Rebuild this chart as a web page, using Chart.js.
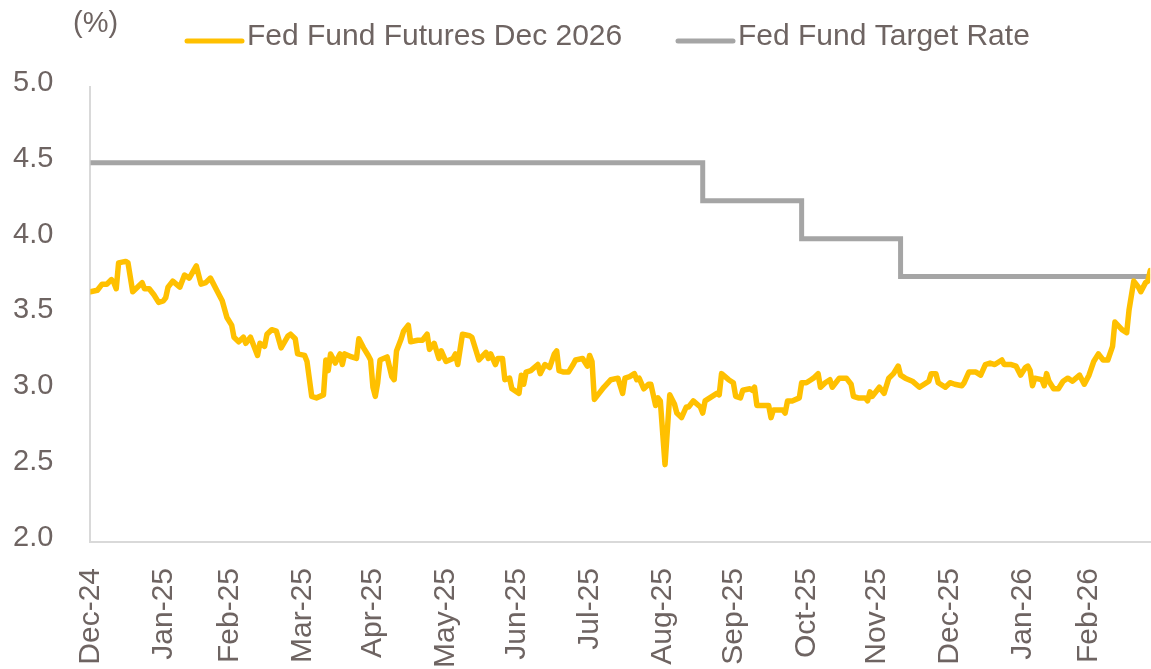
<!DOCTYPE html>
<html>
<head>
<meta charset="utf-8">
<title>Fed Fund Futures Dec 2026 vs Fed Fund Target Rate</title>
<script src="https://cdn.jsdelivr.net/npm/chart.js@4.4.1/dist/chart.umd.min.js"></script>
<style>
  html, body { margin: 0; padding: 0; background: #fff; }
  #wrap { width: 1151px; height: 669px; }
</style>
</head>
<body>
<div id="wrap"><canvas id="rateChart" width="1151" height="669"></canvas></div>
<script>
  // Day 0 of the x axis is 31 Dec 2024, everything else is counted in days from it
  const startDate = '2024-12-31';
  const endDate = '2026-03-26';

  // Month-end tick marks and their labels
  const tickDates = ['2024-12-31', '2025-01-31', '2025-02-28', '2025-03-31', '2025-04-30',
    '2025-05-31', '2025-06-30', '2025-07-31', '2025-08-31', '2025-09-30', '2025-10-31',
    '2025-11-30', '2025-12-31', '2026-01-31', '2026-02-28'];
  const tickLabels = ['Dec-24', 'Jan-25', 'Feb-25', 'Mar-25', 'Apr-25', 'May-25', 'Jun-25',
    'Jul-25', 'Aug-25', 'Sep-25', 'Oct-25', 'Nov-25', 'Dec-25', 'Jan-26', 'Feb-26'];

  // Fed Fund Futures Dec 2026 (days since start, %)
  const futuresDay = [
    0, 3, 5, 7, 9, 10, 11, 12, 15, 16,
    18, 20, 22, 23, 25, 27, 29, 31, 32, 33,
    35, 38, 40, 42, 45, 47, 49, 51, 52, 54,
    56, 58, 60, 61, 63, 65, 66, 68, 71, 72,
    74, 75, 77, 79, 81, 84, 85, 87, 88, 91,
    92, 94, 96, 99, 100, 101, 102, 104, 106, 107,
    108, 111, 113, 114, 116, 118, 119, 120, 121, 122,
    123, 126, 128, 129, 130, 132, 133, 135, 136, 139,
    141, 143, 144, 146, 148, 149, 151, 154, 155, 156,
    158, 161, 162, 165, 168, 169, 170, 172, 173, 175,
    176, 178, 179, 182, 183, 184, 185, 187, 190, 191,
    193, 195, 197, 198, 199, 201, 203, 205, 206, 209,
    211, 212, 213, 214, 216, 218, 221, 224, 226, 227,
    229, 231, 232, 233, 235, 237, 238, 240, 241, 242,
    244, 246, 248, 249, 251, 253, 254, 256, 259, 260,
    261, 264, 266, 267, 268, 271, 273, 274, 276, 277,
    280, 281, 282, 283, 286, 288, 289, 290, 294, 295,
    296, 298, 301, 302, 304, 306, 307, 309, 310, 312,
    314, 315, 318, 321, 323, 324, 326, 329, 330, 331,
    332, 335, 337, 339, 341, 343, 344, 346, 349, 352,
    355, 356, 357, 359, 360, 363, 365, 367, 370, 371,
    373, 376, 378, 380, 382, 384, 387, 388, 391, 393,
    395, 397, 398, 399, 400, 401, 404, 405, 406, 407,
    409, 411, 413, 415, 417, 420, 422, 424, 426, 428,
    430, 432, 434, 435, 438, 440, 441, 443, 445, 446,
    448, 449, 450
  ];
  const futuresRate = [
    3.65, 3.66, 3.70, 3.70, 3.73, 3.71, 3.67, 3.84, 3.85, 3.84,
    3.65, 3.68, 3.71, 3.67, 3.67, 3.63, 3.58, 3.59, 3.61, 3.68,
    3.72, 3.68, 3.76, 3.74, 3.82, 3.70, 3.71, 3.74, 3.71, 3.65,
    3.59, 3.48, 3.43, 3.35, 3.32, 3.35, 3.31, 3.35, 3.23, 3.31,
    3.29, 3.37, 3.40, 3.39, 3.28, 3.36, 3.37, 3.34, 3.24, 3.23,
    3.19, 2.96, 2.95, 2.97, 3.20, 3.13, 3.24, 3.18, 3.24, 3.17,
    3.24, 3.22, 3.21, 3.34, 3.28, 3.23, 3.20, 3.02, 2.96, 3.05,
    3.20, 3.22, 3.09, 3.07, 3.26, 3.34, 3.39, 3.43, 3.32, 3.33,
    3.33, 3.37, 3.27, 3.31, 3.21, 3.26, 3.19, 3.21, 3.24, 3.17,
    3.37, 3.36, 3.35, 3.20, 3.25, 3.21, 3.24, 3.17, 3.21, 3.21,
    3.07, 3.08, 3.01, 2.98, 3.10, 3.04, 3.12, 3.13, 3.17, 3.11,
    3.17, 3.15, 3.24, 3.26, 3.13, 3.12, 3.12, 3.17, 3.20, 3.21,
    3.16, 3.23, 3.19, 2.94, 2.98, 3.02, 3.07, 3.08, 2.98, 3.08,
    3.09, 3.11, 3.07, 3.08, 3.01, 3.04, 3.04, 2.90, 2.95, 2.93,
    2.51, 2.97, 2.91, 2.85, 2.82, 2.89, 2.89, 2.93, 2.89, 2.85,
    2.93, 2.96, 2.98, 2.97, 3.11, 3.07, 3.05, 2.96, 2.95, 3.00,
    3.01, 3.00, 3.02, 2.90, 2.90, 2.90, 2.82, 2.87, 2.87, 2.85,
    2.93, 2.93, 2.95, 3.05, 3.05, 3.07, 3.08, 3.11, 3.02, 3.05,
    3.07, 3.02, 3.08, 3.08, 3.04, 2.96, 2.95, 2.95, 2.93, 2.99,
    2.96, 3.02, 2.98, 3.08, 3.11, 3.16, 3.10, 3.08, 3.06, 3.02,
    3.05, 3.06, 3.11, 3.11, 3.05, 3.02, 3.05, 3.04, 3.03, 3.05,
    3.12, 3.12, 3.10, 3.17, 3.18, 3.17, 3.20, 3.17, 3.17, 3.16,
    3.10, 3.15, 3.16, 3.13, 3.03, 3.08, 3.07, 3.03, 3.11, 3.06,
    3.01, 3.01, 3.06, 3.08, 3.06, 3.10, 3.04, 3.10, 3.19, 3.24,
    3.20, 3.20, 3.29, 3.45, 3.40, 3.38, 3.53, 3.72, 3.68, 3.65,
    3.71, 3.72, 3.79
  ];

  // Fed Fund Target Rate (upper bound), changes on FOMC dates
  const targetDates = ['2024-12-31', '2025-09-17', '2025-10-29', '2025-12-10', '2026-03-26'];
  const targetRate = [4.50, 4.25, 4.00, 3.75, 3.75];

  const yTicks = [2.0, 2.5, 3.0, 3.5, 4.0, 4.5, 5.0];

  const textColor = '#6e6462';
  const fontFamily = '"Liberation Sans", Arial, sans-serif';

  function dayOf(dateStr) {
    return (Date.parse(dateStr + 'T00:00:00Z') - Date.parse(startDate + 'T00:00:00Z')) / 86400000;
  }

  const tickDays = tickDates.map(dayOf);

  // Legend and unit label drawn above the plot
  const headerPlugin = {
    id: 'header',
    afterDraw(chart) {
      const ctx = chart.ctx;
      const legendX = [187, 678];
      ctx.save();
      ctx.fillStyle = textColor;
      ctx.textBaseline = 'middle';
      ctx.font = '29px ' + fontFamily;
      ctx.fillText('(%)', 73, 24);

      ctx.font = '30px ' + fontFamily;
      chart.data.datasets.forEach(function(ds, i) {
        const x = legendX[i];
        ctx.strokeStyle = ds.borderColor;
        ctx.lineWidth = 5;
        ctx.lineCap = 'round';
        ctx.beginPath();
        ctx.moveTo(x, 41);
        ctx.lineTo(x + 55, 41);
        ctx.stroke();
        ctx.fillText(ds.label, x + 60, 37);
      });
      ctx.restore();
    }
  };

  const ctx = document.getElementById('rateChart').getContext('2d');
  new Chart(ctx, {
    type: 'line',
    data: {
      datasets: [{
        label: 'Fed Fund Futures Dec 2026',
        data: futuresDay.map(function(d, i) { return { x: d, y: futuresRate[i] }; }),
        borderColor: '#FFC000',
        borderWidth: 5.5,
        borderJoinStyle: 'round',
        borderCapStyle: 'round',
        pointRadius: 0,
        tension: 0
      }, {
        label: 'Fed Fund Target Rate',
        data: targetDates.map(function(d, i) { return { x: dayOf(d), y: targetRate[i] }; }),
        borderColor: '#A5A5A5',
        borderWidth: 5,
        stepped: true,
        pointRadius: 0
      }]
    },
    options: {
      responsive: false,
      animation: false,
      devicePixelRatio: 1,
      layout: {
        // the axes reserve their tick padding twice, so pull the plot back out
        padding: { top: 87, left: -24, right: 0, bottom: -25 }
      },
      plugins: {
        legend: { display: false },
        tooltip: { enabled: false }
      },
      scales: {
        x: {
          type: 'linear',
          min: 0,
          max: dayOf(endDate),
          grid: { display: false, drawTicks: false },
          border: { display: true, color: '#d9d9d9', width: 2 },
          afterBuildTicks: function(axis) {
            axis.ticks = tickDays.map(function(v) { return { value: v }; });
          },
          ticks: {
            autoSkip: false,
            minRotation: 90,
            maxRotation: 90,
            padding: 26,
            color: textColor,
            font: { family: fontFamily, size: 30 },
            callback: function(value, index) { return tickLabels[index]; }
          }
        },
        y: {
          min: 2,
          max: 5,
          grid: { display: false, drawTicks: false },
          border: { display: true, color: '#d9d9d9', width: 2 },
          afterBuildTicks: function(axis) {
            axis.ticks = yTicks.map(function(v) { return { value: v }; });
          },
          ticks: {
            padding: 37,
            labelOffset: -4,
            color: textColor,
            font: { family: fontFamily, size: 29 },
            callback: function(value) { return Number(value).toFixed(1); }
          }
        }
      }
    },
    plugins: [headerPlugin]
  });
</script>
</body>
</html>
